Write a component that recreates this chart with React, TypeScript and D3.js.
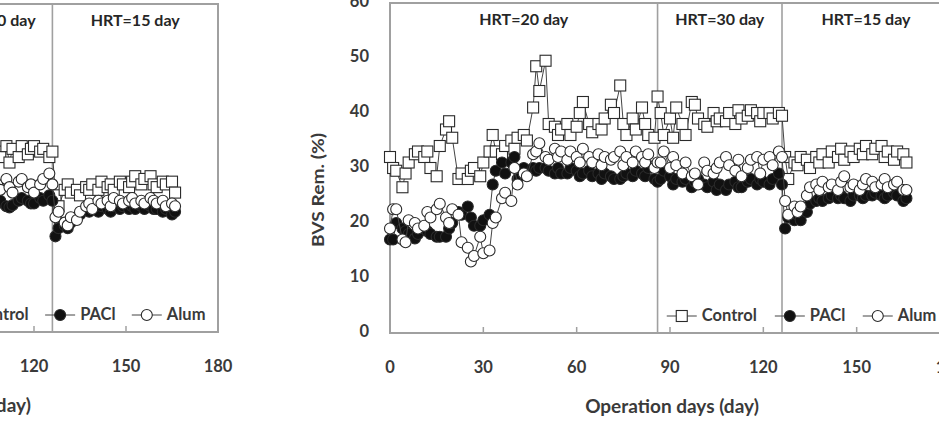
import React from 'react';
import * as d3 from 'd3';

const ticksX = [0, 30, 60, 90, 120, 150, 180];
const ticksY = [0, 10, 20, 30, 40, 50, 60];
const hrtBreaks = [86, 126];
const hrtLabels = ['HRT=20 day', 'HRT=30 day', 'HRT=15 day'];
const seriesNames = ['Control', 'PACl', 'Alum'];

// sampling days per HRT phase
const days1 = [0, 1, 2, 4, 5, 6, 8, 9, 11, 12, 13, 15, 16, 18, 19, 20, 22, 23, 25, 26,
  27, 29, 30, 32, 33, 34, 36, 37, 39, 40, 41, 43, 44, 46, 47, 48, 50, 51, 53, 54,
  55, 57, 58, 60, 61, 62, 64, 65, 67, 68, 69, 71, 72, 74, 75, 76, 78, 79, 81, 82,
  83, 85, 86];
const days2 = [87, 88, 90, 91, 92, 94, 95, 97, 98, 99, 101, 102, 104, 105, 106, 108, 109, 111, 112, 113,
  115, 116, 118, 119, 120, 122, 123, 125, 126];
const days3 = [127, 128, 130, 131, 132, 134, 135, 137, 138, 139, 141, 142, 144, 145, 146, 148, 149, 151, 152, 153,
  155, 156, 158, 159, 160, 162, 163, 165, 166];
const rightDays = [...days1, ...days2, ...days3];

const controlRight = [
  32, 30, 29.5, 26.5, 29, 31, 32.5, 33, 32, 33,
  30, 28.5, 34, 37, 38.5, 35.5, 28, 29, 28, 29.5,
  30, 28.5, 31, 33, 36, 33, 32.5, 34, 35, 33.5,
  35.5, 36, 35, 41, 48.5, 44, 49.5, 38, 37.5, 36,
  37, 38, 36, 37.5, 40, 42, 38, 36.5, 38, 37,
  39, 41.5, 40, 45, 38, 36, 39, 37, 41, 38,
  36, 35.5, 43,
  40, 36, 39, 35.5, 41, 38, 36, 42, 41.5, 39, 38, 37.5, 40, 38.5, 39, 38.5, 40, 38, 40.5, 39,
  39.5, 40.5, 40, 38.5, 40, 40, 39, 40, 39.5,
  32, 28, 31, 30.5, 32, 31.5, 30, 32, 31, 32.5, 31, 33, 32, 33.5, 31.5, 33, 32, 33.5, 32.5, 34,
  32.5, 33.5, 34, 32, 33, 31.5, 33, 32.5, 31];
const paclRight = [
  17, 17, 20, 19, 18.5, 18, 17.2, 18, 19, 18.5,
  18, 17.5, 17.5, 17.5, 19, 20, 22, 21.5, 23, 21,
  19.5, 19.5, 20.5, 21.5, 27, 29.5, 31, 29, 31, 32,
  28, 30, 29, 30, 29.5, 30, 30, 29.5, 29, 30,
  29, 29, 30, 29.5, 28.5, 29, 29.5, 28.5, 29, 28,
  29, 28.5, 28, 28, 28.5, 29, 28.5, 29.5, 29, 28.5,
  30, 28, 27.5,
  28, 29.5, 28.5, 27, 28, 27.5, 28, 26.5, 27.5, 28, 27, 26.5, 27.5, 26, 27, 26, 27, 27.5, 26.5, 26.5,
  27.5, 28, 27, 28, 27.5, 27, 28, 29, 27,
  19, 21, 20.5, 21.5, 20.5, 22, 23.5, 24, 24.5, 24, 24.5, 25, 24.5, 25, 24.5, 24, 25, 25, 24.5, 25,
  25, 25.5, 25, 24.5, 25, 25.5, 25, 24, 24.5];
const alumRight = [
  19, 22.5, 22.5, 17, 16.5, 20.5, 20, 19, 19.5, 22,
  21, 22.5, 23.5, 21, 20, 22.5, 21.5, 16.5, 15.5, 13,
  14, 17.5, 14.5, 15, 20, 21, 24.5, 25.5, 24, 30,
  27, 29, 28.5, 32.5, 33, 34.5, 32, 31.5, 33.5, 32,
  33, 31.5, 33, 32, 31, 33.5, 32, 31, 32.5, 30.5,
  32, 31.5, 32, 33, 30.5, 32, 31, 33, 32, 31,
  32.5, 30, 31,
  31, 33, 30, 32, 30.5, 29, 31, 28.5, 29, 27, 31, 29.5, 29, 30, 31, 32, 30.5, 29.5, 31.5, 28.5,
  30, 31.5, 32, 29, 31.5, 32, 30.5, 33, 32,
  24, 21.5, 23, 22, 23, 25, 26.5, 27, 26, 27.5, 26.5, 27, 26, 27.5, 28.5, 26.5, 27, 26, 27, 28,
  27.5, 26.5, 27, 28, 26.5, 27, 27.5, 26, 26];

// left panel (only its right part is visible)
const leftDays = [108, 109, 111, 112, 113, 115, 116, 118, 119, 120, 122, 123, 125, 126, ...days3];
const controlLeft = [33, 32, 34, 31, 33.5, 32, 34, 32.5, 33.5, 34, 33, 33.5, 32, 33,
  25, 23, 26, 27, 25.5, 26, 25, 26.5, 26, 27, 26, 27.5, 26.5, 27, 26, 27.5, 27, 26.5, 27.5, 28.5,
  27, 28, 28.5, 27, 26.5, 27.5, 27, 27.5, 25.5];
const paclLeft = [23.5, 24, 23, 22.8, 23.2, 24, 24.5, 24, 23.5, 23.5, 24.5, 24, 25, 24,
  17.5, 19, 19.5, 19, 20, 21, 21.5, 22.5, 22, 22.5, 22, 23, 22.5, 22, 23, 22.5, 23, 22.5, 23, 22.5,
  23, 22.5, 23, 22.5, 22.5, 22, 22.5, 21.5, 22];
const alumLeft = [27, 26, 28, 26.5, 25.5, 27.5, 28, 26.5, 27, 25.5, 27, 28, 29, 27,
  21, 22, 20, 19.5, 21, 20.5, 22, 23, 23.5, 22.5, 24, 23.5, 24, 23, 24.5, 24, 23.5, 24, 24.5, 23.5,
  24, 23.5, 24.5, 24, 23.5, 24, 23, 23.5, 23];

const font = 'Lato, "Open Sans", sans-serif';
const textColor = '#3a3a3a';
const frameColor = '#a0a0a0';
const markStroke = '#2a2a2a';

type PanelProps = {
  xRange: [number, number];
  yRange: [number, number];
  days: number[];
  control: number[];
  pacl: number[];
  alum: number[];
};

const Marker = ({ kind, x, y }: { kind: number; x: number; y: number }) => {
  if (kind === 0) {
    return <rect x={x - 5.5} y={y - 5.5} width={11} height={11} fill="#fff" stroke={markStroke} strokeWidth={1.1} />;
  }
  return <circle cx={x} cy={y} r={5.5} fill={kind === 1 ? '#111' : '#fff'} stroke={markStroke} strokeWidth={1.1} />;
};

const Panel = ({ xRange, yRange, days, control, pacl, alum }: PanelProps) => {
  const x = d3.scaleLinear().domain([0, 180]).range(xRange);
  const y = d3.scaleLinear().domain([0, 60]).range(yRange);
  const series = [control, pacl, alum];
  const line = d3.line<number>().x((_, i) => x(days[i])).y(d => y(d));
  const bounds = [0, ...hrtBreaks, 180];
  const plotW = xRange[1] - xRange[0];
  const legendX = [0.521, 0.714, 0.871].map(f => xRange[0] + f * plotW);
  const legendY = yRange[0] - 17;

  return (
    <g>
      <rect x={x(0)} y={y(60)} width={x(180) - x(0)} height={y(0) - y(60)}
        fill="none" stroke={frameColor} strokeWidth={2} />
      {hrtBreaks.map(b => (
        <line key={b} x1={x(b)} x2={x(b)} y1={y(60)} y2={y(0)} stroke={frameColor} strokeWidth={1.6} />
      ))}
      {ticksX.map(t => (
        <g key={t}>
          <line x1={x(t)} x2={x(t)} y1={y(0)} y2={y(0) - 6} stroke={frameColor} strokeWidth={1.5} />
          <text x={x(t)} y={y(0) + 36} textAnchor="middle" dominantBaseline="middle"
            fontSize={16.5} fontWeight={700} fill={textColor} fontFamily={font}>{t}</text>
        </g>
      ))}
      {ticksY.map(t => (
        <text key={t} x={x(0) - 21} y={y(t)} textAnchor="end" dominantBaseline="middle"
          fontSize={16.5} fontWeight={700} fill={textColor} fontFamily={font}>{t}</text>
      ))}
      {hrtLabels.map((l, i) => (
        <text key={l} x={(x(bounds[i]) + x(bounds[i + 1])) / 2} y={y(60) + 18}
          textAnchor="middle" dominantBaseline="middle" fontSize={16} fontWeight={700}
          fill="#262626" fontFamily={font}>{l}</text>
      ))}
      {series.map((vals, k) => (
        <g key={k}>
          <path d={line(vals) || ''} fill="none" stroke="#444" strokeWidth={1} />
          {vals.map((v, i) => <Marker key={i} kind={k} x={x(days[i])} y={y(v)} />)}
        </g>
      ))}
      {seriesNames.map((n, k) => (
        <g key={n}>
          <line x1={legendX[k] - 15} x2={legendX[k] + 15} y1={legendY} y2={legendY} stroke="#444" strokeWidth={1} />
          <Marker kind={k} x={legendX[k]} y={legendY} />
          <text x={legendX[k] + 20} y={legendY + 1} dominantBaseline="middle" fontSize={16.5}
            fontWeight={700} fill={textColor} fontFamily={font}>{n}</text>
        </g>
      ))}
      <text x={(x(0) + x(180)) / 2 + 2} y={yRange[0] + 75} textAnchor="middle" dominantBaseline="middle"
        fontSize={19} fontWeight={700} fill={textColor} fontFamily={font}>Operation days (day)</text>
      <text transform={`translate(${x(0) - 70},${(y(0) + y(60)) / 2 + 22}) rotate(-90)`} textAnchor="middle"
        dominantBaseline="middle" fontSize={17} fontWeight={700} fill={textColor} fontFamily={font}
        textLength={114} lengthAdjust="spacingAndGlyphs">BVS Rem. (%)</text>
    </g>
  );
};

export default function App() {
  return (
    <div>
      <style>{'body{margin:0;background:#fff}'}</style>
      <svg width={939} height={424} style={{ display: 'block' }}>
        <rect width={939} height={424} fill="#fff" />
        <Panel xRange={[-334, 218]} yRange={[332, 4]} days={leftDays}
          control={controlLeft} pacl={paclLeft} alum={alumLeft} />
        <Panel xRange={[390, 950]} yRange={[333, 3]} days={rightDays}
          control={controlRight} pacl={paclRight} alum={alumRight} />
      </svg>
    </div>
  );
}
